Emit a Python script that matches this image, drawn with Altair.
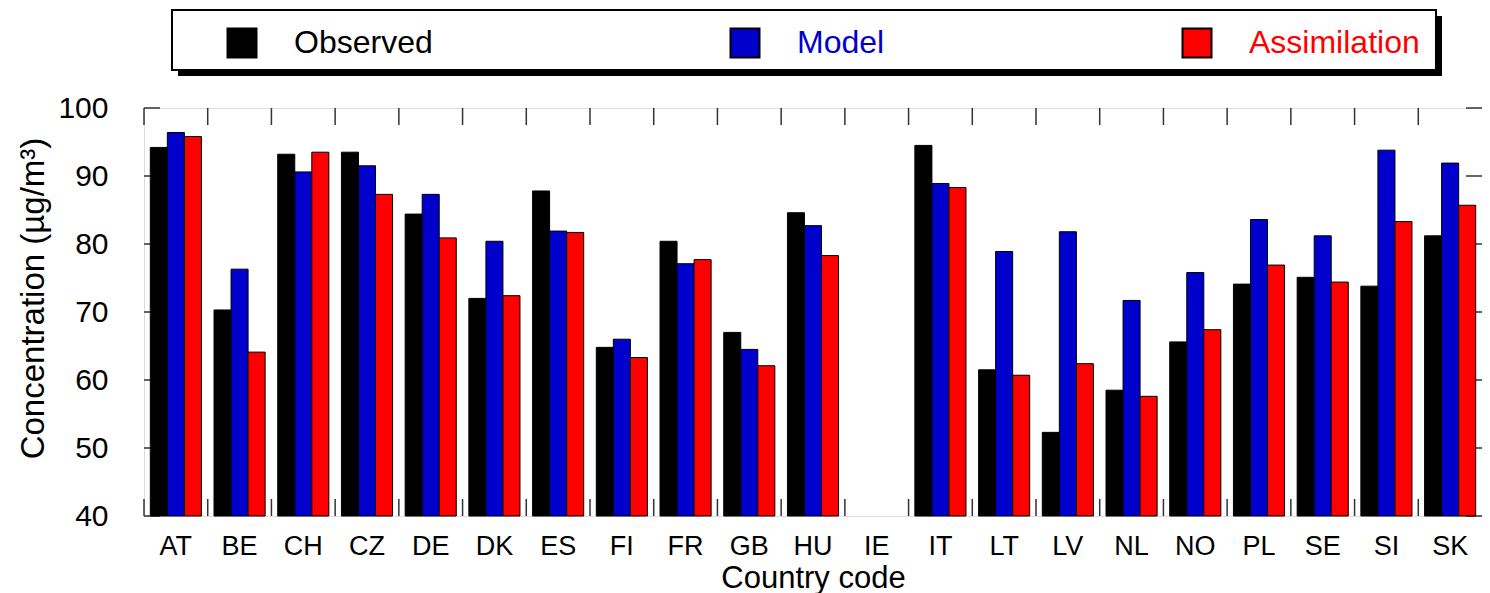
import altair as alt
import pandas as pd

# ---- data ----
countries = ["AT", "BE", "CH", "CZ", "DE", "DK", "ES", "FI", "FR", "GB", "HU",
             "IE", "IT", "LT", "LV", "NL", "NO", "PL", "SE", "SI", "SK"]
series = ["Observed", "Model", "Assimilation"]
colors = ["#000000", "#0000CC", "#FF0000"]
observed = [94.2, 70.3, 93.2, 93.5, 84.4, 72.0, 87.8, 64.8, 80.4, 67.0, 84.6,
            None, 94.5, 61.5, 52.3, 58.5, 65.6, 74.1, 75.1, 73.8, 81.2]
model = [96.4, 76.3, 90.6, 91.5, 87.3, 80.4, 81.9, 66.0, 77.1, 64.5, 82.7,
         None, 88.9, 78.9, 81.8, 71.7, 75.8, 83.6, 81.2, 93.8, 91.9]
assimilation = [95.8, 64.1, 93.5, 87.3, 80.9, 72.4, 81.7, 63.3, 77.7, 62.1, 78.3,
                None, 88.3, 60.7, 62.4, 57.6, 67.4, 76.9, 74.4, 83.3, 85.7]
y_ticks = [40, 50, 60, 70, 80, 90, 100]

# ---- layout ----
W, H = 1338, 408
FONT = "Liberation Sans"
FRAME = "#333333"

rows = []
for name, vals in zip(series, [observed, model, assimilation]):
    for c, v in zip(countries, vals):
        if v is not None:
            rows.append({"country": c, "series": name, "value": v})
df = pd.DataFrame(rows)

x_scale = alt.Scale(domain=countries, paddingInner=0, paddingOuter=0)
y_scale = alt.Scale(domain=[40, 100], nice=False, zero=False)
color_scale = alt.Scale(domain=series, range=colors)

y_axis = alt.Axis(values=y_ticks, title="Concentration (µg/m³)", ticks=False, tickSize=0,
                  domain=False, grid=False, labelFontSize=30, labelPadding=36,
                  labelColor="black", labelFont=FONT, titleFont=FONT, titleFontSize=33,
                  titleFontWeight="normal", titleColor="black", titleX=-101, titleY=190,
                  titleAngle=270, titleBaseline="alphabetic", titleAlign="center")
x_axis = alt.Axis(title="Country code", labelAngle=0, ticks=False, tickSize=0, domain=False,
                  grid=False, labelFontSize=27, labelPadding=38, labelBaseline="alphabetic",
                  labelFont=FONT, labelColor="black", titleFont=FONT, titleFontSize=31,
                  titleFontWeight="normal", titleColor="black", titleX=W / 2, titleY=71,
                  titleBaseline="alphabetic", titleAlign="center")

bars = alt.Chart(df).mark_bar(stroke="black", strokeWidth=1, opacity=1).encode(
    x=alt.X("country:N", scale=x_scale, axis=x_axis, sort=countries),
    xOffset=alt.XOffset("series:N", sort=series,
                        scale=alt.Scale(domain=series, paddingInner=0, paddingOuter=0.37)),
    y=alt.Y("value:Q", scale=y_scale, axis=y_axis),
    y2=alt.datum(40),
    color=alt.Color("series:N", scale=color_scale, legend=None),
)

# inward tick marks at category boundaries (top & bottom)
tick_df = pd.DataFrame({"country": countries})
xt = alt.X("country:N", scale=x_scale, axis=x_axis, bandPosition=0, sort=countries)
top_ticks = alt.Chart(tick_df).mark_rule(color=FRAME, strokeWidth=1.5).encode(
    x=xt, y=alt.value(0), y2=alt.value(17))
bottom_ticks = alt.Chart(tick_df).mark_rule(color=FRAME, strokeWidth=1.5).encode(
    x=xt, y=alt.value(H - 17), y2=alt.value(H))

# inward tick marks on the value axis (left & right)
yt_df = pd.DataFrame({"v": y_ticks})
yt = alt.Y("v:Q", scale=y_scale, axis=y_axis)
left_ticks = alt.Chart(yt_df).mark_rule(color=FRAME, strokeWidth=1.5).encode(
    y=yt, x=alt.value(0), x2=alt.value(16))
right_ticks = alt.Chart(yt_df).mark_rule(color=FRAME, strokeWidth=1.5).encode(
    y=yt, x=alt.value(W - 16), x2=alt.value(W))

# ---- custom legend box above the plot ----
one = pd.DataFrame({"k": [0]})
box_l, box_r, box_t, box_b = 28, 1292, -98, -38
shadow = alt.Chart(one).mark_rect(fill="black").encode(
    x=alt.value(box_l + 6), x2=alt.value(box_r + 6),
    y=alt.value(box_t + 6), y2=alt.value(box_b + 6))
box = alt.Chart(one).mark_rect(fill="white", stroke="black", strokeWidth=2).encode(
    x=alt.value(box_l), x2=alt.value(box_r), y=alt.value(box_t), y2=alt.value(box_b))

leg_df = pd.DataFrame({"series": series})
legend_centers = [98, 601, 1053]
legend_y = -65
legend_layers = []
for s, cx in zip(series, legend_centers):
    base = alt.Chart(leg_df).transform_filter(alt.datum.series == s)
    legend_layers.append(base.mark_square(size=841, stroke="black", strokeWidth=2,
                                          opacity=1, filled=True).encode(
        x=alt.value(cx), y=alt.value(legend_y),
        color=alt.Color("series:N", scale=color_scale, legend=None)))
    legend_layers.append(base.mark_text(align="left", baseline="middle", fontSize=32,
                                        font=FONT).encode(
        x=alt.value(cx + 52), y=alt.value(legend_y), text="series:N",
        color=alt.Color("series:N", scale=color_scale, legend=None)))

chart = alt.layer(
    top_ticks, bottom_ticks, left_ticks, right_ticks, bars, shadow, box, *legend_layers
).properties(
    width=W, height=H,
    autosize=alt.AutoSizeParams(type="none"),
    padding={"left": 136, "top": 100, "right": 0, "bottom": 77},
    background="white",
).configure_view(
    stroke=FRAME, strokeWidth=1.5
).configure(font=FONT)

chart.save("out.html", embed_options={"renderer": "svg", "actions": False})
